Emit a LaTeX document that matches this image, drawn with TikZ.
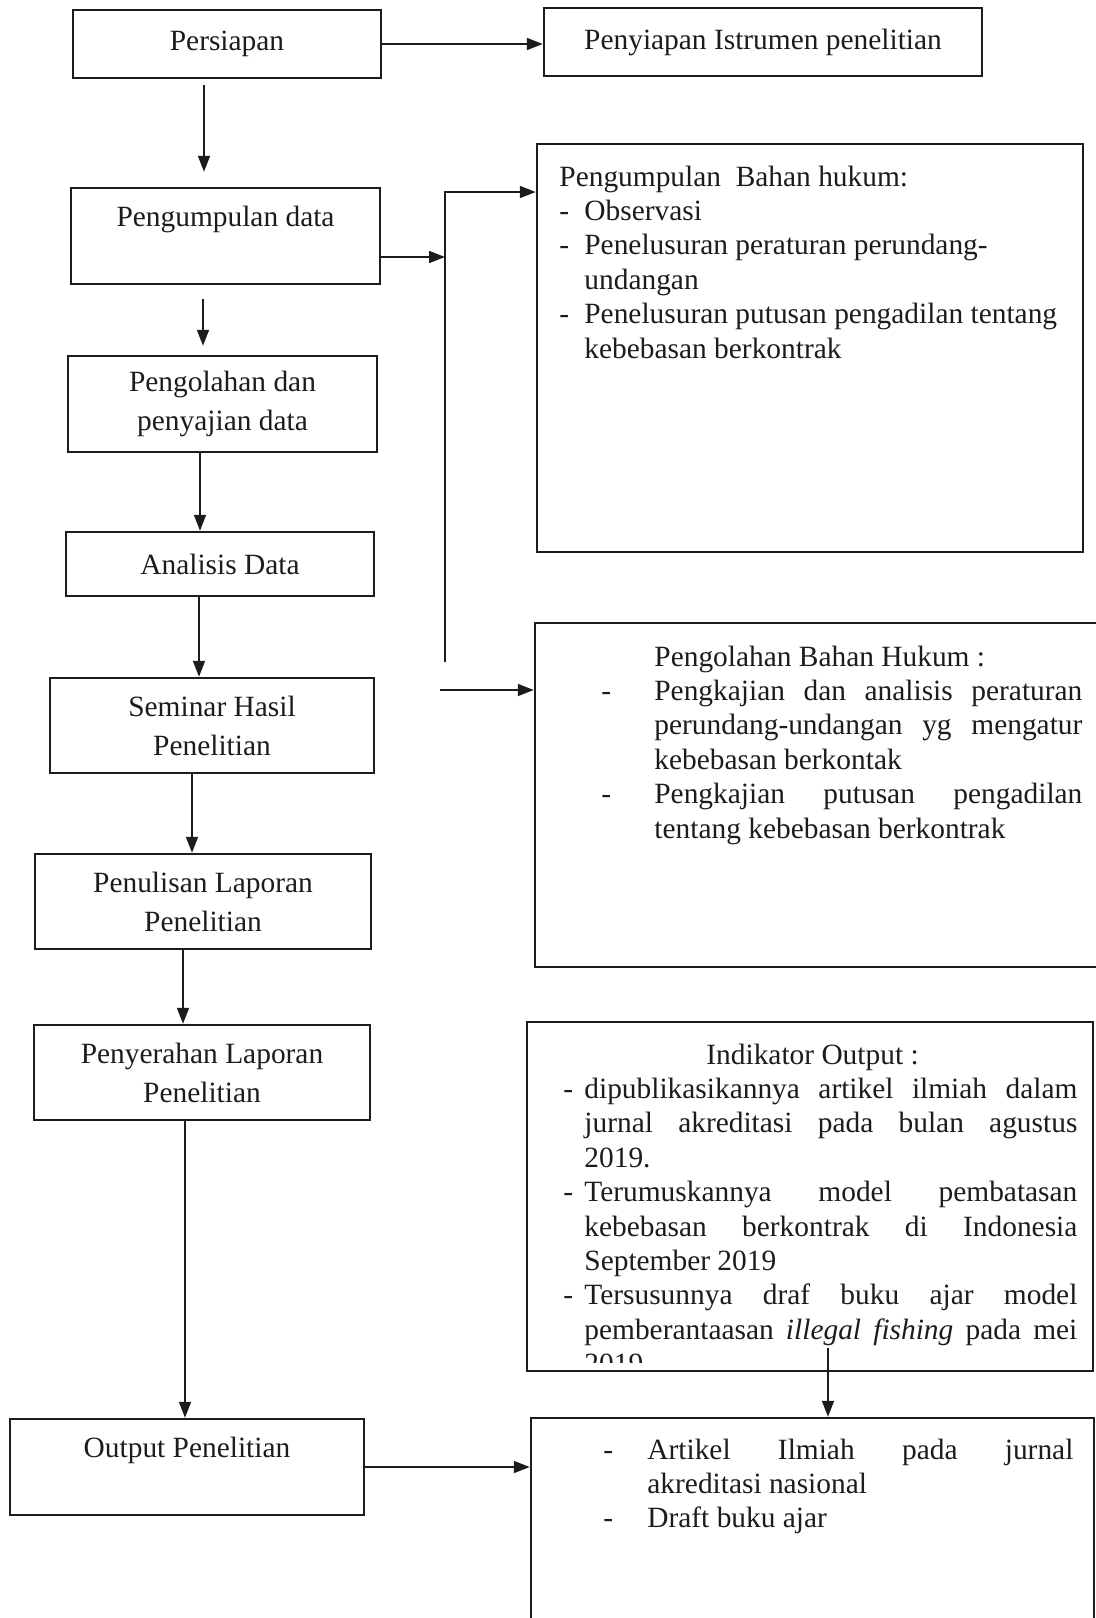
\documentclass[tikz,border=0pt]{standalone}
\usepackage{fontspec}
\setmainfont{Liberation Serif}
\usetikzlibrary{arrows.meta}
\definecolor{ink}{RGB}{28,28,28}
\newdimen\pxu \pxu=0.5pt
\begin{document}
\begin{tikzpicture}[x=0.5pt, y={(0pt,-0.5pt)},
  every node/.style={text=ink, font=\fontsize{14.7pt}{17.2pt}\selectfont},
  box/.style={draw=ink, line width=1.25pt, inner sep=0pt},
  lbox/.style={box, align=center, font=\fontsize{14.7pt}{19.5pt}\selectfont},
  sz/.style 2 args={minimum width=#1, minimum height=#2},
  txt/.style={anchor=base west, inner sep=0pt},
  link/.style={draw=ink, line width=0.9pt},
  conn/.style={link, -{Triangle[length=8pt,width=6pt]}}]

\useasboundingbox (0,0) rectangle (1096,1618);
\fill[white] (0,0) rectangle (1096,1618);
\clip (0,0) rectangle (1096,1618);

% left column
\node[lbox, sz={154pt}{34pt}] (persiapan) at (227,44) {Persiapan};
\node[lbox, sz={154.5pt}{48pt}] (pengumpulan) at (225.5,236) {Pengumpulan data\\~};
\node[lbox, sz={154.5pt}{48pt}] (pengolahan) at (222.5,404) {Pengolahan dan\\penyajian data};
\node[lbox, sz={154pt}{32pt}] (analisis) at (220,564) {Analisis Data};
\node[lbox, sz={162pt}{47.5pt}] (seminar) at (212,725.5) {Seminar Hasil\\Penelitian};
\node[lbox, sz={168pt}{47.5pt}] (penulisan) at (203,901.5) {Penulisan Laporan\\Penelitian};
\node[lbox, sz={168pt}{47.5pt}] (penyerahan) at (202,1072.5) {Penyerahan Laporan\\Penelitian};
\node[lbox, sz={177pt}{48pt}] (output) at (187,1467) {Output Penelitian\\~};

% right column
\node[lbox, sz={219pt}{34pt}] (penyiapan) at (763,42) {Penyiapan Istrumen penelitian};
\node[box, sz={273pt}{204pt}] (bahan) at (810,348) {};
\node[box, sz={292.5pt}{172pt}] (olahbahan) at (827.5,795) {};
\node[box, sz={283pt}{174.5pt}] (indikator) at (810,1196.5) {};
\node[box, sz={281.5pt}{116pt}] (hasil) at (812.5,1534) {};

\node[txt] (bahantext) at (559,186) {\begin{minipage}[t]{262pt}\raggedright
Pengumpulan\ \ Bahan hukum:\par
\hangindent=25\pxu\hangafter=1 \makebox[25\pxu][l]{-}Observasi\par
\hangindent=25\pxu\hangafter=1 \makebox[25\pxu][l]{-}Penelusuran peraturan perundang-\newline undangan\par
\hangindent=25\pxu\hangafter=1 \makebox[25\pxu][l]{-}Penelusuran putusan pengadilan tentang\newline kebebasan berkontrak
\end{minipage}};

\node[txt] (olahtext) at (601,666) {\begin{minipage}[t]{240.5pt}
\tolerance=9999 \hyphenpenalty=10000 \exhyphenpenalty=10000
\hspace*{53\pxu}Pengolahan Bahan Hukum :\par
\hangindent=53\pxu\hangafter=1 \makebox[53\pxu][l]{-}Pengkajian dan analisis peraturan\linebreak perundang-undangan yg mengatur\linebreak kebebasan berkontak\par
\hangindent=53\pxu\hangafter=1 \makebox[53\pxu][l]{-}Pengkajian putusan pengadilan\linebreak tentang kebebasan berkontrak
\end{minipage}};

\begin{scope}
\clip (527,1022) rectangle (1093,1362);
\node[txt] (indiktext) at (563,1064) {\begin{minipage}[t]{257pt}
\tolerance=9999 \hyphenpenalty=10000 \exhyphenpenalty=10000
\hspace*{143\pxu}Indikator Output :\par
\hangindent=21\pxu\hangafter=1 \makebox[21\pxu][l]{-}dipublikasikannya artikel ilmiah dalam\linebreak jurnal akreditasi pada bulan agustus\linebreak 2019.\par
\hangindent=21\pxu\hangafter=1 \makebox[21\pxu][l]{-}Terumuskannya model pembatasan\linebreak kebebasan berkontrak di Indonesia\linebreak September 2019\par
\hangindent=21\pxu\hangafter=1 \makebox[21\pxu][l]{-}Tersusunnya draf buku ajar model\linebreak pemberantaasan \textit{illegal fishing} pada mei\linebreak 2019
\end{minipage}};
\end{scope}

\node[txt] (hasiltext) at (603,1459) {\begin{minipage}[t]{235pt}
\tolerance=9999 \hyphenpenalty=10000 \exhyphenpenalty=10000
\hangindent=44\pxu\hangafter=1 \makebox[44\pxu][l]{-}Artikel Ilmiah pada jurnal\linebreak akreditasi nasional\par
\hangindent=44\pxu\hangafter=1 \makebox[44\pxu][l]{-}Draft buku ajar
\end{minipage}};

% connectors
\coordinate (v1) at (204,0);
\coordinate (v2) at (203,0);
\coordinate (v3) at (200,0);
\coordinate (v4) at (199,0);
\coordinate (v5) at (192,0);
\coordinate (v6) at (183,0);
\coordinate (v7) at (185,0);
\coordinate (j0) at (445,192);
\coordinate (j1) at (445,257);
\coordinate (j2) at (445,662);
\coordinate (k0) at (440,690);
\coordinate (m0) at (828,1348);

\draw[conn] (persiapan.east) -- (persiapan.east -| penyiapan.west);
\draw[conn, shorten <=3pt, shorten >=7.5pt] (persiapan.south -| v1) -- (pengumpulan.north -| v1);
\draw[conn, shorten <=7pt, shorten >=4.5pt] (pengumpulan.south -| v2) -- (pengolahan.north -| v2);
\draw[conn] (pengolahan.south -| v3) -- (analisis.north -| v3);
\draw[conn] (analisis.south -| v4) -- (seminar.north -| v4);
\draw[conn] (seminar.south -| v5) -- (penulisan.north -| v5);
\draw[conn] (penulisan.south -| v6) -- (penyerahan.north -| v6);
\draw[conn] (penyerahan.south -| v7) -- (output.north -| v7);

\draw[conn] (pengumpulan.east |- j1) -- (j1);
\draw[conn] (j2) -- (j0) -- (j0 -| bahan.west);
\draw[conn] (k0) -- (k0 -| olahbahan.west);
\draw[conn] (output.east) -- (output.east -| hasil.west);
\draw[conn] (m0) -- (m0 |- hasil.north);

\end{tikzpicture}
\end{document}
